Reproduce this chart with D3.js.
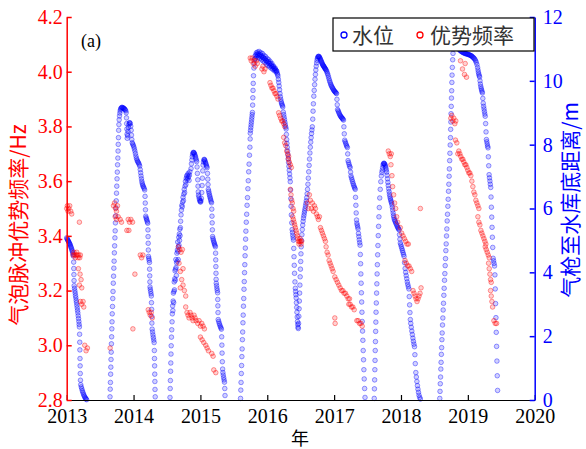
<!DOCTYPE html>
<html><head><meta charset="utf-8">
<script src="https://cdn.jsdelivr.net/npm/d3@7"></script>
<style>body{margin:0;background:#fff}</style>
</head><body>
<svg id="chart" width="586" height="449"></svg>
<script>
// Axis ticks
const years = [2013, 2014, 2015, 2016, 2017, 2018, 2019, 2020];
const freqTicks = [2.8, 3.0, 3.2, 3.4, 3.6, 3.8, 4.0, 4.2];
const levelTicks = [0, 2, 4, 6, 8, 10, 12];

// Air-gun to reservoir-bottom distance (m), one array per filling season: [decimal year, metres]
const level2013 = [[2013.000,5.08],[2013.006,5.05],[2013.012,5.03],[2013.018,5.00],[2013.024,4.98],[2013.030,4.96],[2013.036,4.93],[2013.042,4.90],[2013.048,4.88],[2013.054,4.85],[2013.060,4.81],[2013.066,4.78],[2013.072,4.74],[2013.078,4.70],[2013.084,4.66],[2013.090,4.61],[2013.096,4.56],[2013.100,4.51],
[2013.104,4.32],[2013.106,4.12],[2013.108,3.93],[2013.110,3.74],
[2013.112,3.58],[2013.117,3.50],[2013.122,3.42],[2013.127,3.35],[2013.132,3.27],[2013.137,3.20],[2013.142,3.12],[2013.147,3.05],[2013.152,2.97],[2013.157,2.89],[2013.162,2.81],[2013.167,2.73],[2013.172,2.64],[2013.177,2.55],[2013.182,2.46],[2013.186,2.37],[2013.190,2.29],
[2013.193,2.06],[2013.195,1.81],[2013.197,1.57],[2013.199,1.30],[2013.201,1.07],[2013.203,0.83],[2013.206,0.62],
[2013.210,0.48],[2013.218,0.41],[2013.226,0.35],[2013.234,0.29],[2013.242,0.24],[2013.250,0.19],[2013.258,0.15],[2013.266,0.11],[2013.274,0.08],[2013.282,0.05],[2013.290,0.03],[2013.298,0.01]];

const level2014 = [[2013.648,0.10],[2013.651,0.34],[2013.654,0.55],[2013.657,0.81],[2013.660,1.03],[2013.663,1.27],[2013.666,1.50],[2013.669,1.76],[2013.672,1.98],[2013.675,2.23],[2013.678,2.45],[2013.681,2.70],[2013.685,2.93],[2013.689,3.18],[2013.693,3.40],[2013.697,3.66],[2013.701,3.88],[2013.705,4.13],[2013.709,4.35],[2013.713,4.61],[2013.717,4.83],[2013.721,5.08],[2013.725,5.30],[2013.729,5.55],[2013.733,5.77],[2013.737,6.02],[2013.741,6.24],[2013.745,6.48],[2013.749,6.70],[2013.753,6.93],[2013.757,7.14],[2013.761,7.37],[2013.765,7.58],[2013.768,7.80],[2013.771,8.01],[2013.774,8.22],
[2013.777,8.45],[2013.781,8.63],[2013.785,8.78],[2013.790,8.90],[2013.795,8.99],[2013.800,9.06],[2013.806,9.11],[2013.812,9.14],[2013.820,9.16],[2013.828,9.17],[2013.836,9.16],[2013.844,9.15],[2013.852,9.14],[2013.860,9.13],[2013.868,9.11],[2013.876,9.09],[2013.884,9.06],[2013.890,9.00],
[2013.894,8.84],[2013.897,8.66],[2013.900,8.49],[2013.903,8.33],[2013.906,8.20],
[2013.912,8.28],[2013.918,8.42],[2013.924,8.54],[2013.930,8.63],[2013.937,8.68],[2013.944,8.69],[2013.951,8.66],[2013.958,8.58],[2013.964,8.45],[2013.969,8.30],[2013.974,8.16],
[2013.980,8.06],[2013.988,8.02],[2013.996,7.98],[2014.004,7.93],[2014.012,7.87],[2014.020,7.80],[2014.028,7.72],[2014.036,7.64],[2014.044,7.57],[2014.052,7.52],[2014.060,7.48],[2014.068,7.45],[2014.076,7.42],[2014.084,7.38],[2014.092,7.33],
[2014.100,7.22],[2014.106,7.12],[2014.112,7.02],[2014.118,6.93],[2014.124,6.85],[2014.130,6.79],[2014.136,6.74],[2014.142,6.70],[2014.150,6.67],[2014.158,6.63],[2014.166,6.58],
[2014.172,6.38],[2014.175,6.17],[2014.178,5.96],
[2014.182,5.76],[2014.188,5.71],[2014.194,5.67],[2014.200,5.63],[2014.206,5.58],[2014.212,5.54],
[2014.215,5.33],[2014.217,5.12],[2014.219,4.91],[2014.221,4.70],
[2014.223,4.50],[2014.228,4.44],[2014.233,4.38],[2014.238,4.31],
[2014.240,4.10],[2014.242,3.89],[2014.244,3.70],
[2014.246,3.54],[2014.251,3.47],[2014.256,3.40],[2014.261,3.33],[2014.266,3.26],
[2014.268,3.05],[2014.270,2.84],[2014.272,2.62],[2014.274,2.41],
[2014.278,2.22],[2014.284,2.13],[2014.290,2.04],[2014.296,1.96],[2014.302,1.88],[2014.308,1.80],
[2014.311,1.55],[2014.313,1.30],[2014.315,1.07],[2014.317,0.81],[2014.319,0.58],[2014.321,0.33],[2014.324,0.10]];

const level2015 = [[2014.545,0.08],[2014.548,0.36],[2014.551,0.61],[2014.554,0.90],[2014.557,1.16],[2014.560,1.44],[2014.563,1.70],[2014.567,1.97],[2014.571,2.20],
[2014.576,2.45],[2014.580,2.70],[2014.584,2.95],[2014.588,2.80],[2014.592,3.10],[2014.596,3.35],[2014.600,3.05],[2014.604,3.40],[2014.608,3.70],[2014.612,3.45],[2014.616,3.80],[2014.620,4.05],[2014.624,3.75],[2014.628,4.10],[2014.632,4.40],[2014.636,4.15],[2014.640,3.90],[2014.644,4.30],[2014.648,4.60],[2014.652,4.35],[2014.656,4.70],[2014.660,4.95],[2014.664,4.65],[2014.668,4.40],[2014.672,4.80],[2014.676,5.10],[2014.680,4.85],[2014.684,5.20],[2014.688,5.00],[2014.692,5.35],[2014.696,5.15],[2014.700,5.40],
[2014.704,5.60],[2014.710,5.80],[2014.716,5.95],[2014.722,6.10],[2014.728,6.05],[2014.734,6.20],[2014.740,6.35],[2014.746,6.25],[2014.752,6.45],[2014.758,6.60],[2014.764,6.50],[2014.770,6.70],[2014.776,6.85],[2014.782,6.75],[2014.788,6.95],[2014.794,7.02],[2014.800,6.90],[2014.806,7.05],[2014.812,6.95],[2014.818,7.10],[2014.824,7.00],[2014.830,6.88],[2014.836,7.05],[2014.842,7.15],
[2014.860,7.25],[2014.866,7.40],[2014.872,7.52],
[2014.878,7.62],[2014.884,7.70],[2014.890,7.74],[2014.896,7.76],[2014.902,7.75],[2014.908,7.73],[2014.914,7.70],[2014.920,7.66],[2014.926,7.62],[2014.932,7.57],[2014.938,7.52],[2014.944,7.47],
[2014.950,7.30],[2014.955,7.10],[2014.960,6.90],[2014.964,6.70],[2014.968,6.52],
[2014.972,6.42],[2014.978,6.36],[2014.984,6.30],[2014.990,6.25],[2014.996,6.22],[2015.002,6.20],[2015.008,6.24],[2015.014,6.32],
[2015.020,6.50],[2015.025,6.72],[2015.030,6.95],[2015.035,7.18],[2015.040,7.36],[2015.046,7.46],[2015.052,7.52],[2015.058,7.54],[2015.064,7.52],[2015.070,7.48],[2015.076,7.44],[2015.082,7.40],[2015.088,7.36],[2015.094,7.32],[2015.100,7.28],
[2015.106,7.10],[2015.110,6.92],[2015.114,6.75],
[2015.118,6.60],[2015.124,6.54],[2015.130,6.48],[2015.136,6.42],[2015.142,6.37],[2015.148,6.32],[2015.154,6.27],[2015.160,6.22],[2015.166,6.18],
[2015.170,5.98],[2015.173,5.76],[2015.176,5.55],[2015.179,5.33],
[2015.182,5.12],[2015.188,5.06],[2015.194,5.01],[2015.200,4.96],[2015.206,4.92],[2015.212,4.88],[2015.218,4.84],[2015.224,4.80],
[2015.227,4.60],[2015.229,4.39],[2015.231,4.18],[2015.233,3.97],[2015.235,3.78],
[2015.237,3.66],[2015.242,3.58],[2015.247,3.50],[2015.252,3.43],[2015.257,3.36],
[2015.259,3.15],[2015.261,2.95],[2015.263,2.74],
[2015.266,2.52],[2015.274,2.46],[2015.282,2.40],[2015.290,2.35],[2015.298,2.30],[2015.306,2.26],[2015.314,2.22],
[2015.318,1.98],[2015.321,1.72],[2015.324,1.47],[2015.328,1.20],[2015.332,0.97],
[2015.336,0.86],[2015.342,0.78],[2015.348,0.70],[2015.354,0.63],[2015.360,0.56],
[2015.364,0.36],[2015.368,0.14]];

const level2016 = [[2015.600,0.05],[2015.604,0.31],[2015.608,0.55],[2015.612,0.83],[2015.616,1.08],[2015.620,1.36],[2015.624,1.60],[2015.628,1.89],[2015.632,2.13],[2015.636,2.42],[2015.640,2.66],[2015.644,2.94],[2015.648,3.18],[2015.652,3.47],[2015.656,3.71],[2015.660,3.99],[2015.664,4.24],[2015.668,4.52],[2015.672,4.76],[2015.676,5.04],[2015.680,5.29],[2015.686,5.57],[2015.692,5.82],[2015.698,6.10],[2015.704,6.34],[2015.710,6.62],[2015.716,6.87],[2015.722,7.15],[2015.728,7.39],[2015.734,7.67],[2015.740,7.92],[2015.744,8.18],
[2015.746,8.36],[2015.750,8.45],[2015.754,8.54],[2015.758,8.62],[2015.762,8.70],[2015.766,8.78],[2015.770,8.86],[2015.774,8.94],[2015.778,9.01],
[2015.781,9.24],[2015.784,9.47],[2015.787,9.70],[2015.790,9.92],[2015.794,10.16],
[2015.800,10.40],[2015.806,10.55],[2015.812,10.68],[2015.818,10.78],[2015.824,10.70],[2015.830,10.82],[2015.836,10.88],[2015.842,10.76],[2015.848,10.84],[2015.854,10.90],[2015.860,10.80],[2015.866,10.72],[2015.872,10.85],[2015.878,10.92],[2015.884,10.80],[2015.890,10.70],[2015.896,10.82],[2015.902,10.88],[2015.908,10.76],[2015.914,10.66],[2015.920,10.78],[2015.926,10.86],[2015.932,10.74],[2015.938,10.62],[2015.944,10.72],[2015.950,10.80],[2015.956,10.70],[2015.962,10.58],[2015.968,10.68],[2015.974,10.76],[2015.980,10.64],[2015.986,10.52],[2015.992,10.62],[2015.998,10.70],[2016.004,10.58],[2016.010,10.48],[2016.016,10.60],[2016.022,10.66],[2016.028,10.54],[2016.034,10.44],[2016.040,10.55],[2016.046,10.60],[2016.052,10.48],[2016.058,10.40],[2016.064,10.50],[2016.070,10.54],[2016.076,10.44],[2016.082,10.36],[2016.088,10.44],[2016.094,10.46],[2016.100,10.38],[2016.106,10.32],[2016.112,10.38],[2016.118,10.40],[2016.124,10.34],[2016.130,10.28],[2016.136,10.32],[2016.142,10.30],[2016.148,10.24],[2016.154,10.20],
[2016.160,10.15],[2016.166,10.05],[2016.172,9.95],[2016.178,9.84],[2016.184,9.72],[2016.190,9.60],[2016.196,9.50],[2016.202,9.42],[2016.208,9.35],[2016.214,9.30],[2016.220,9.26],[2016.226,9.22],[2016.232,9.18],
[2016.240,9.02],[2016.246,8.94],[2016.252,8.86],[2016.258,8.78],[2016.264,8.70],[2016.270,8.62],[2016.276,8.55],[2016.282,8.49],
[2016.286,8.32],[2016.290,8.16],
[2016.294,8.04],[2016.299,7.92],[2016.304,7.80],[2016.309,7.68],[2016.314,7.56],[2016.319,7.44],[2016.324,7.32],[2016.329,7.20],[2016.334,7.08],[2016.339,6.96],[2016.344,6.84],
[2016.348,6.58],[2016.352,6.31],[2016.356,6.07],[2016.360,5.80],[2016.366,5.55],
[2016.372,5.34],[2016.377,5.25],[2016.382,5.16],[2016.387,5.08],[2016.392,5.01],
[2016.396,4.75],[2016.400,4.49],[2016.404,4.22],[2016.408,3.97],[2016.414,3.70],[2016.420,3.50],
[2016.424,3.40],[2016.428,3.30],[2016.432,3.20],[2016.436,3.05],[2016.440,2.90],[2016.444,2.75],[2016.448,2.60],[2016.452,2.46],[2016.456,2.36],[2016.460,2.28],[2016.464,2.24],
[2016.468,2.40],[2016.472,2.62],[2016.476,2.86],[2016.480,3.10],[2016.484,3.35],[2016.488,3.60],[2016.492,3.86],[2016.496,4.10],[2016.500,4.34],[2016.504,4.58],[2016.508,4.80],
[2016.512,5.00],[2016.518,5.18],[2016.524,5.34],[2016.530,5.48],[2016.536,5.60],[2016.542,5.70],[2016.548,5.78],[2016.554,5.86],[2016.560,5.93],[2016.566,6.00],[2016.572,6.08],[2016.578,6.16],[2016.584,6.24],[2016.590,6.34],[2016.596,6.46],[2016.602,6.60],[2016.608,6.76],
[2016.614,6.95],[2016.620,7.15],[2016.626,7.35],[2016.632,7.55],[2016.638,7.74],[2016.644,7.92],[2016.650,8.08],[2016.656,8.22],[2016.662,8.35],[2016.668,8.46],[2016.674,8.56],
[2016.680,8.80],[2016.685,9.05],[2016.690,9.28],
[2016.696,9.52],[2016.702,9.70],[2016.708,9.88],[2016.714,10.05],[2016.720,10.20],[2016.726,10.34],[2016.732,10.46],[2016.738,10.56],[2016.744,10.64],[2016.750,10.70],[2016.756,10.74],[2016.762,10.76],[2016.768,10.77],[2016.774,10.76],[2016.780,10.74],[2016.786,10.72],[2016.792,10.69],[2016.798,10.66],[2016.804,10.63],[2016.810,10.60],[2016.816,10.57],[2016.822,10.54],[2016.828,10.51],[2016.834,10.49],[2016.840,10.47],[2016.846,10.45],[2016.852,10.43],[2016.858,10.41],[2016.864,10.39],[2016.870,10.37],[2016.876,10.35],[2016.884,10.32],[2016.892,10.28],[2016.900,10.23],[2016.908,10.18],[2016.916,10.12],[2016.924,10.06],[2016.932,10.00],[2016.940,9.95],[2016.948,9.90],[2016.956,9.86],[2016.964,9.82],[2016.972,9.79],[2016.980,9.76],[2016.988,9.73],[2016.996,9.70],[2017.004,9.68],[2017.012,9.66],[2017.020,9.64],[2017.028,9.62],[2017.036,9.60],
[2017.042,9.42],[2017.047,9.25],
[2017.052,9.10],[2017.060,9.06],[2017.068,9.02],[2017.076,8.98],[2017.084,8.94],[2017.092,8.91],[2017.100,8.88],[2017.108,8.86],[2017.116,8.84],[2017.124,8.82],[2017.132,8.80],[2017.140,8.77],
[2017.146,8.56],[2017.152,8.34],
[2017.158,8.14],[2017.166,8.09],[2017.174,8.04],[2017.182,7.99],[2017.190,7.95],[2017.198,7.91],
[2017.203,7.71],
[2017.208,7.50],[2017.216,7.44],[2017.224,7.38],[2017.232,7.32],[2017.240,7.28],
[2017.246,7.14],
[2017.252,7.02],[2017.260,6.96],[2017.268,6.90],[2017.276,6.84],[2017.284,6.78],[2017.292,6.73],[2017.300,6.68],[2017.308,6.64],[2017.316,6.60],
[2017.320,6.35],[2017.325,6.10],[2017.330,5.86],[2017.335,5.64],
[2017.340,5.54],[2017.346,5.48],[2017.352,5.42],[2017.358,5.36],
[2017.364,5.22],[2017.370,5.12],[2017.376,5.02],[2017.382,4.93],[2017.388,4.85],
[2017.392,4.56],[2017.396,4.27],[2017.400,3.95],[2017.404,3.66],[2017.408,3.36],[2017.412,3.07],[2017.416,2.75],[2017.420,2.46],[2017.425,2.16],[2017.430,1.87],[2017.435,1.55],[2017.440,1.26],[2017.445,0.95],[2017.450,0.66],[2017.456,0.36],[2017.462,0.08]];

const level2018 = [[2017.600,0.05],[2017.603,0.35],[2017.606,0.63],[2017.609,0.95],[2017.612,1.24],[2017.615,1.55],[2017.618,1.83],[2017.621,2.15],[2017.624,2.44],[2017.627,2.75],[2017.631,3.04],[2017.635,3.35],[2017.639,3.64],[2017.643,3.95],[2017.647,4.24],[2017.651,4.55],[2017.655,4.84],[2017.660,5.15],[2017.665,5.44],[2017.670,5.74],[2017.676,6.03],[2017.682,6.33],[2017.690,6.60],[2017.698,6.84],[2017.706,7.02],[2017.714,7.13],
[2017.720,7.20],[2017.726,7.28],[2017.732,7.36],[2017.738,7.40],[2017.744,7.42],[2017.750,7.41],[2017.756,7.39],[2017.762,7.36],[2017.768,7.32],[2017.774,7.27],[2017.780,7.21],[2017.786,7.14],
[2017.792,7.04],[2017.798,6.93],[2017.804,6.82],[2017.810,6.72],[2017.816,6.62],[2017.822,6.53],[2017.828,6.45],[2017.834,6.38],[2017.840,6.32],[2017.846,6.27],[2017.852,6.22],[2017.858,6.18],[2017.864,6.12],[2017.870,6.04],[2017.876,5.95],[2017.882,5.86],[2017.888,5.78],[2017.894,5.72],
[2017.900,5.66],[2017.908,5.62],[2017.916,5.58],[2017.924,5.54],[2017.932,5.50],[2017.940,5.46],[2017.948,5.42],[2017.956,5.39],[2017.964,5.36],[2017.972,5.33],
[2017.978,5.18],[2017.984,5.04],
[2017.990,4.92],[2017.998,4.86],[2018.006,4.80],[2018.014,4.74],[2018.022,4.68],[2018.030,4.62],[2018.038,4.56],[2018.046,4.50],
[2018.054,4.30],[2018.062,4.12],[2018.070,4.00],[2018.078,3.90],[2018.086,3.80],[2018.094,3.70],[2018.102,3.62],[2018.110,3.55],[2018.118,3.48],
[2018.124,3.24],[2018.129,2.98],[2018.134,2.74],[2018.140,2.52],
[2018.146,2.40],[2018.154,2.28],[2018.162,2.16],[2018.170,2.05],[2018.178,1.94],[2018.186,1.84],[2018.194,1.75],[2018.202,1.67],
[2018.208,1.42],[2018.214,1.14],
[2018.222,0.86],[2018.230,0.72],[2018.238,0.58],[2018.246,0.45],[2018.254,0.34],[2018.262,0.24],[2018.270,0.15],[2018.280,0.08],[2018.290,0.03]];

const level2019 = [[2018.580,0.05],[2018.584,0.27],[2018.588,0.51],[2018.592,0.72],[2018.596,0.97],[2018.600,1.18],[2018.604,1.43],[2018.608,1.64],[2018.612,1.89],[2018.616,2.10],[2018.621,2.35],[2018.626,2.57],[2018.631,2.82],[2018.636,3.03],[2018.641,3.28],[2018.646,3.50],[2018.651,3.75],[2018.656,3.96],[2018.661,4.21],[2018.666,4.43],[2018.671,4.68],[2018.676,4.89],[2018.681,5.14],[2018.686,5.36],[2018.691,5.61],[2018.696,5.82],[2018.701,6.07],[2018.706,6.29],[2018.711,6.54],[2018.716,6.76],[2018.720,7.01],[2018.724,7.24],[2018.728,7.50],[2018.732,7.73],[2018.736,7.99],[2018.740,8.22],[2018.743,8.48],[2018.746,8.71],[2018.749,8.97],[2018.752,9.20],[2018.755,9.46],[2018.758,9.69],[2018.761,9.95],[2018.764,10.18],[2018.768,10.42],[2018.773,10.66],[2018.778,10.86],
[2018.786,11.00],[2018.796,11.08],[2018.806,11.12],[2018.816,11.14],[2018.826,11.12],[2018.836,11.09],[2018.846,11.06],[2018.856,11.03],[2018.866,11.00],[2018.876,10.97],[2018.886,10.95],[2018.896,10.93],[2018.906,10.92],[2018.916,10.90],[2018.926,10.89],[2018.936,10.88],[2018.946,10.87],[2018.956,10.86],[2018.966,10.85],[2018.976,10.85],[2018.986,10.84],[2018.996,10.83],[2019.006,10.83],[2019.016,10.82],[2019.026,10.81],[2019.036,10.80],[2019.046,10.79],[2019.056,10.78],[2019.066,10.76],[2019.076,10.74],[2019.086,10.72],[2019.096,10.70],[2019.106,10.67],[2019.116,10.63],[2019.126,10.58],[2019.136,10.51],
[2019.146,10.42],[2019.152,10.34],[2019.158,10.27],[2019.164,10.21],[2019.170,10.16],[2019.176,10.12],
[2019.182,10.00],[2019.188,9.90],
[2019.194,9.82],[2019.200,9.76],[2019.206,9.71],[2019.212,9.66],[2019.218,9.62],
[2019.224,9.45],[2019.230,9.30],
[2019.236,9.20],[2019.242,9.12],[2019.248,9.04],[2019.254,8.96],[2019.260,8.89],
[2019.266,8.66],[2019.272,8.40],
[2019.278,8.16],[2019.284,8.09],[2019.290,8.02],[2019.296,7.95],[2019.302,7.90],
[2019.307,7.62],[2019.312,7.34],
[2019.318,7.06],[2019.324,6.96],[2019.330,6.86],[2019.336,6.76],[2019.342,6.66],
[2019.347,6.36],[2019.352,6.04],[2019.357,5.73],[2019.362,5.41],[2019.367,5.10],[2019.372,4.78],
[2019.378,4.44],[2019.385,4.36],[2019.392,4.28],[2019.399,4.20],
[2019.405,3.92],[2019.410,3.48],[2019.415,3.02],[2019.420,2.58],[2019.425,2.12],[2019.430,1.68],[2019.435,1.22],[2019.440,0.76],[2019.445,0.30]];

// Dominant frequency of the air-gun bubble pulse (Hz): [decimal year, Hz]
const freq2013 = [[2013.000,3.50],[2013.010,3.51],[2013.020,3.49],[2013.030,3.50],[2013.045,3.51],[2013.060,3.49],[2013.075,3.48],
[2013.190,3.45],
[2013.095,3.33],[2013.110,3.34],[2013.120,3.33],[2013.130,3.32],[2013.140,3.33],[2013.150,3.34],[2013.160,3.33],[2013.170,3.32],[2013.180,3.33],[2013.195,3.32],[2013.205,3.33],
[2013.175,3.28],[2013.200,3.26],[2013.215,3.24],[2013.190,3.22],[2013.225,3.21],
[2013.205,3.16],[2013.225,3.15],[2013.245,3.16],[2013.255,3.14],
[2013.270,3.00],[2013.290,2.98],[2013.310,2.99]];

const freq2014 = [[2013.650,2.99],
[2013.700,3.51],[2013.715,3.52],[2013.730,3.50],[2013.745,3.49],[2013.760,3.51],
[2013.725,3.47],[2013.745,3.46],[2013.770,3.47],[2013.800,3.46],[2013.820,3.45],
[2013.920,3.46],[2013.940,3.45],[2013.960,3.46],[2013.985,3.45],
[2013.900,3.42],[2013.930,3.42],
[2014.100,3.33],[2014.120,3.32],[2014.140,3.33],
[2014.020,3.26],
[2014.220,3.13],[2014.235,3.12],[2014.250,3.11],[2014.265,3.12],[2014.280,3.10],
[2013.990,3.06]];

const freq2015 = [[2014.670,3.36],[2014.690,3.35],[2014.710,3.34],[2014.730,3.35],
[2014.680,3.30],[2014.700,3.27],[2014.720,3.24],[2014.740,3.22],[2014.760,3.20],[2014.780,3.18],[2014.700,3.21],[2014.740,3.28],
[2014.780,3.14],
[2014.800,3.12],[2014.815,3.11],[2014.830,3.10],[2014.845,3.12],[2014.860,3.11],[2014.875,3.10],[2014.890,3.09],[2014.905,3.11],[2014.920,3.10],[2014.935,3.09],
[2014.960,3.08],[2014.980,3.09],[2015.000,3.07],[2015.020,3.08],[2015.040,3.07],[2015.060,3.06],
[2015.000,3.03],[2015.025,3.02],[2015.050,3.01],
[2015.080,3.00],[2015.100,2.99],[2015.120,2.98],
[2015.170,2.97],[2015.190,2.96],
[2015.200,2.91],[2015.230,2.90]];

const freq2016 = [[2015.745,4.05],[2015.760,4.04],[2015.775,4.05],[2015.790,4.03],[2015.805,4.04],[2015.820,4.02],[2015.835,4.04],[2015.850,4.03],
[2015.920,4.01],[2015.935,4.02],[2015.950,4.00],[2015.965,4.01],
[2016.040,3.96],[2016.055,3.95],[2016.070,3.94],[2016.085,3.94],[2016.100,3.93],[2016.115,3.92],[2016.130,3.92],[2016.145,3.91],[2016.160,3.90],
[2016.170,3.85],[2016.185,3.84],[2016.200,3.83],[2016.215,3.82],[2016.230,3.82],[2016.245,3.81],[2016.260,3.80],
[2016.245,3.76],[2016.260,3.74],[2016.275,3.73],[2016.290,3.71],[2016.305,3.70],[2016.320,3.69],
[2016.315,3.68],[2016.330,3.67],[2016.345,3.66],[2016.360,3.65],
[2016.345,3.57],[2016.355,3.55],[2016.365,3.53],[2016.375,3.52],[2016.385,3.50],[2016.395,3.49],
[2016.380,3.47],[2016.390,3.46],[2016.400,3.45],[2016.410,3.44],[2016.420,3.43],[2016.430,3.42],
[2016.440,3.41],[2016.450,3.40],[2016.458,3.39],[2016.466,3.38],[2016.474,3.37],[2016.482,3.38],[2016.490,3.39],[2016.498,3.38],[2016.506,3.37],[2016.514,3.38],
[2016.600,3.52],[2016.615,3.50],[2016.630,3.55],[2016.645,3.53],[2016.660,3.50],[2016.675,3.52],[2016.690,3.49],[2016.705,3.51],[2016.720,3.50],[2016.735,3.48],[2016.750,3.47],[2016.765,3.46],[2016.780,3.47],
[2016.795,3.43],[2016.810,3.42],[2016.825,3.41],[2016.840,3.40],[2016.855,3.39],[2016.870,3.38],
[2016.880,3.36],[2016.895,3.34],[2016.910,3.33],[2016.925,3.31],[2016.940,3.30],
[2016.955,3.29],[2016.970,3.28],[2016.985,3.27],
[2017.010,3.25],[2017.030,3.24],[2017.050,3.23],[2017.070,3.22],[2017.090,3.21],
[2017.110,3.20],[2017.130,3.20],[2017.150,3.19],
[2017.170,3.19],[2017.190,3.18],[2017.210,3.17],[2017.230,3.17],
[2017.220,3.15],[2017.240,3.15],[2017.260,3.14],[2017.280,3.14],[2017.300,3.13],
[2017.340,3.09],[2017.360,3.09],[2017.380,3.08],[2017.400,3.08],[2017.420,3.07],
[2017.010,3.10],[2017.015,3.08]];

const freq2018 = [[2017.810,3.71],[2017.825,3.70],[2017.840,3.69],[2017.855,3.70],
[2017.850,3.66],[2017.865,3.62],[2017.875,3.58],[2017.890,3.55],[2017.905,3.52],[2017.920,3.50],[2017.935,3.47],[2017.950,3.45],
[2017.990,3.43],[2018.010,3.41],[2018.030,3.40],[2018.050,3.39],[2018.070,3.38],[2018.090,3.37],[2018.110,3.37],
[2018.060,3.31],[2018.080,3.30],[2018.100,3.29],[2018.120,3.29],[2018.140,3.28],[2018.160,3.27],
[2018.180,3.20],[2018.195,3.19],[2018.210,3.18],[2018.225,3.17],[2018.240,3.16],[2018.255,3.17],[2018.270,3.18],[2018.285,3.19],[2018.300,3.21],
[2018.290,3.50]];

const freq2019 = [[2018.890,4.04],[2018.920,4.01],[2018.950,3.99],[2018.980,3.98],[2018.960,4.03],
[2018.745,3.83],[2018.760,3.84],[2018.775,3.82],[2018.790,3.83],[2018.805,3.81],[2018.820,3.82],
[2018.815,3.75],[2018.835,3.74],
[2018.850,3.70],[2018.865,3.71],[2018.880,3.70],[2018.895,3.69],[2018.910,3.68],[2018.925,3.68],[2018.940,3.67],[2018.955,3.66],[2018.970,3.66],[2018.985,3.65],[2019.000,3.64],[2019.015,3.63],[2019.030,3.63],[2019.045,3.62],
[2019.060,3.60],[2019.075,3.58],[2019.090,3.56],[2019.105,3.55],[2019.120,3.53],[2019.135,3.52],[2019.150,3.51],[2019.165,3.50],
[2019.150,3.47],[2019.165,3.45],[2019.180,3.44],[2019.195,3.42],[2019.210,3.41],[2019.225,3.40],[2019.240,3.39],[2019.255,3.38],[2019.270,3.37],
[2019.260,3.36],[2019.275,3.35],[2019.290,3.34],[2019.305,3.33],[2019.320,3.32],
[2019.310,3.30],[2019.320,3.28],[2019.330,3.26],[2019.340,3.24],[2019.350,3.23],
[2019.340,3.20],[2019.350,3.18],[2019.360,3.16],[2019.370,3.14],
[2019.390,3.09],[2019.410,3.08],[2019.430,3.08]];

const levelSeasons = [level2013, level2014, level2015, level2016, level2018, level2019];
const freqSeasons = [freq2013, freq2014, freq2015, freq2016, freq2018, freq2019];

const serif = '"Liberation Serif","Times New Roman",serif';
const cjk = '"Noto Sans CJK SC","Noto Sans",sans-serif';
const BLUE = '#0000ff', RED = '#ff0000';

const svg = d3.select('#chart');
svg.append('rect').attr('width', 586).attr('height', 449).attr('fill', '#fff');

const x = d3.scaleLinear().domain([2013, 2020]).range([66.7, 534.7]);
const yFreq = d3.scaleLinear().domain([2.8, 4.2]).range([400, 17]);
const yLevel = d3.scaleLinear().domain([0, 12]).range([400, 17]);

// hollow markers; a faint fill lets overlapping runs build up into solid blobs
function drawSeries(data, yScale, color) {
  svg.append('g').selectAll('circle').data(data).join('circle')
    .attr('cx', d => x(d[0]))
    .attr('cy', d => yScale(d[1]))
    .attr('r', 2.3)
    .attr('fill', color)
    .attr('fill-opacity', 0.18)
    .attr('stroke', color)
    .attr('stroke-width', 0.8)
    .attr('stroke-opacity', 0.5);
}
drawSeries(levelSeasons.flat(), yLevel, BLUE);
drawSeries(freqSeasons.flat(), yFreq, RED);

function styleAxis(g, color, width) {
  g.attr('font-family', null).attr('font-size', null);
  g.select('.domain').attr('stroke', color).attr('stroke-width', width);
  g.selectAll('.tick line').attr('stroke', color).attr('stroke-width', width);
  g.selectAll('.tick text').attr('fill', color)
    .style('font-family', serif).style('font-size', '20px');
}

// bottom (years)
svg.append('g').attr('transform', 'translate(0,400)')
  .call(d3.axisBottom(x).tickValues(years).tickFormat(d3.format('d'))
    .tickSizeInner(-5).tickSizeOuter(0).tickPadding(9))
  .call(g => styleAxis(g, '#000', 1.2));

// left (frequency)
svg.append('g').attr('transform', `translate(${x(2013)},0)`)
  .call(d3.axisLeft(yFreq).tickValues(freqTicks).tickFormat(d3.format('.1f'))
    .tickSizeInner(-5).tickSizeOuter(0).tickPadding(4))
  .call(g => styleAxis(g, RED, 1.5));

// right (distance)
svg.append('g').attr('transform', `translate(${x(2020)},0)`)
  .call(d3.axisRight(yLevel).tickValues(levelTicks).tickFormat(d3.format('d'))
    .tickSizeInner(-5).tickSizeOuter(0).tickPadding(8))
  .call(g => styleAxis(g, BLUE, 1.5));

// axis titles
svg.append('text').attr('transform', 'translate(26,225) rotate(-90)')
  .attr('text-anchor', 'middle').attr('fill', RED)
  .style('font-family', cjk).style('font-size', '21px')
  .text('气泡脉冲优势频率/Hz');
svg.append('text').attr('transform', 'translate(578,200) rotate(-90)')
  .attr('text-anchor', 'middle').attr('fill', BLUE)
  .style('font-family', cjk).style('font-size', '21px')
  .text('气枪至水库底距离/m');
svg.append('text').attr('x', 300).attr('y', 445)
  .attr('text-anchor', 'middle').attr('fill', '#000')
  .style('font-family', cjk).style('font-size', '18px')
  .text('年');
svg.append('text').attr('x', 81).attr('y', 47)
  .attr('fill', '#000')
  .style('font-family', serif).style('font-size', '18px')
  .text('(a)');

// legend
const legend = svg.append('g');
legend.append('rect').attr('x', 333).attr('y', 18).attr('width', 201).attr('height', 33)
  .attr('fill', '#fff').attr('stroke', '#000').attr('stroke-width', 1.2);
const legendItems = [
  {label: '水位', color: BLUE, mx: 344, tx: 352},
  {label: '优势频率', color: RED, mx: 420, tx: 430}
];
legendItems.forEach(it => {
  legend.append('circle').attr('cx', it.mx).attr('cy', 35).attr('r', 3)
    .attr('fill', 'none').attr('stroke', it.color).attr('stroke-width', 1.3);
  legend.append('text').attr('x', it.tx).attr('y', 43)
    .attr('fill', '#333')
    .style('font-family', cjk).style('font-size', '21px')
    .text(it.label);
});
</script>
</body></html>
